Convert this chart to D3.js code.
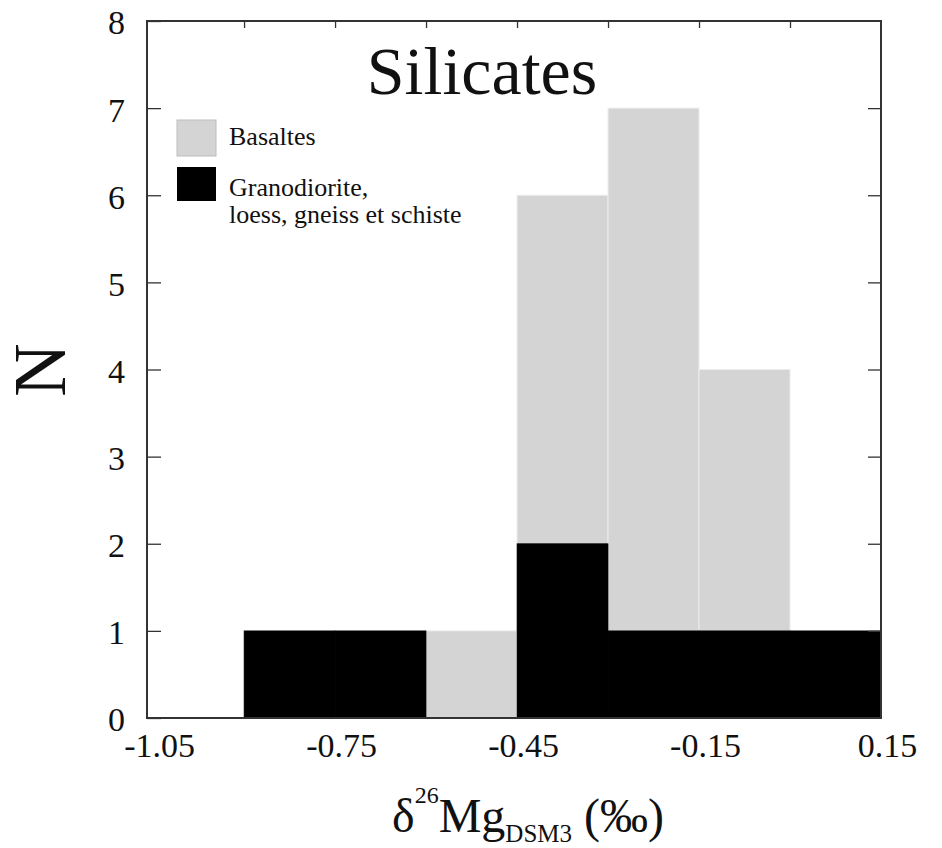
<!DOCTYPE html>
<html>
<head>
<meta charset="utf-8">
<script src="https://cdn.jsdelivr.net/npm/d3@7"></script>
<style>
  html, body { margin: 0; padding: 0; background: #fff; }
  svg { display: block; }
</style>
</head>
<body>
<svg id="chart" width="942" height="848"></svg>
<script>
// ---- data ----
const binStarts = [-0.9, -0.75, -0.6, -0.45, -0.3, -0.15, 0];
const binWidth = 0.15;
const basaltes = [0, 0, 1, 6, 7, 4, 0];
const autres = [1, 1, 0, 2, 1, 1, 1];
const xTickLabels = [-1.05, -0.75, -0.45, -0.15, 0.15];
const xMinorTicks = [-0.9, -0.75, -0.6, -0.45, -0.3, -0.15, 0];
const yTicks = [0, 1, 2, 3, 4, 5, 6, 7, 8];
const legendLabels = [["Basaltes"], ["Granodiorite,", "loess, gneiss et schiste"]];
const titleText = "Silicates";

// ---- layout ----
const L = 147, R = 881, T = 21, B = 718;
const serif = "'Liberation Serif', 'Times New Roman', serif";
const svg = d3.select("#chart");

const x = d3.scaleLinear().domain([-1.06, 0.15]).range([L, R]);
const y = d3.scaleLinear().domain([0, 8]).range([B, T]);

const colGrey = "#d4d4d4";
const colBlack = "#000000";

// grey bars (basaltes)
svg.append("g").selectAll("rect")
  .data(binStarts.map((s, i) => ({s, v: basaltes[i]})).filter(d => d.v > 0))
  .join("rect")
  .attr("x", d => x(d.s))
  .attr("width", d => x(d.s + binWidth) - x(d.s))
  .attr("y", d => y(d.v))
  .attr("height", d => y(0) - y(d.v))
  .attr("fill", colGrey)
  .attr("stroke", "#ececec")
  .attr("stroke-width", 1);

// black bars
svg.append("g").selectAll("rect")
  .data(binStarts.map((s, i) => ({s, v: autres[i]})).filter(d => d.v > 0))
  .join("rect")
  .attr("x", d => x(d.s))
  .attr("width", d => x(d.s + binWidth) - x(d.s))
  .attr("y", d => y(d.v))
  .attr("height", d => y(0) - y(d.v))
  .attr("fill", colBlack)
  .attr("stroke", colBlack)
  .attr("stroke-width", 0.6);

// frame
svg.append("rect")
  .attr("x", L).attr("y", T)
  .attr("width", R - L).attr("height", B - T)
  .attr("fill", "none")
  .attr("stroke", "#333")
  .attr("stroke-width", 2);

// left axis (ticks inward)
const yAxisL = svg.append("g")
  .attr("transform", `translate(${L},0)`)
  .call(d3.axisLeft(y).tickValues(yTicks).tickSizeInner(-14).tickSizeOuter(0).tickPadding(22).tickFormat(d3.format("d")));
yAxisL.select(".domain").remove();
yAxisL.selectAll(".tick line").attr("stroke", "#333").attr("stroke-width", 1.3);
yAxisL.selectAll(".tick text")
  .attr("font-family", serif).attr("font-size", 34).attr("fill", "#111")
  .attr("dy", "0.38em");

// right axis (ticks inward)
const yAxisR = svg.append("g")
  .attr("transform", `translate(${R},0)`)
  .call(d3.axisRight(y).tickValues(yTicks.slice(1, -1)).tickSizeInner(-13).tickSizeOuter(0).tickFormat(""));
yAxisR.select(".domain").remove();
yAxisR.selectAll(".tick line").attr("stroke", "#333").attr("stroke-width", 1.3);

// top axis minor ticks (inward)
const xAxisT = svg.append("g")
  .attr("transform", `translate(0,${T})`)
  .call(d3.axisTop(x).tickValues(xMinorTicks).tickSizeInner(-7).tickSizeOuter(0).tickFormat(""));
xAxisT.select(".domain").remove();
xAxisT.selectAll(".tick line").attr("stroke", "#333").attr("stroke-width", 1.3);

// bottom axis labels
const xAxisB = svg.append("g")
  .attr("transform", `translate(0,${B})`)
  .call(d3.axisBottom(x).tickValues(xTickLabels).tickSize(0).tickPadding(0).tickFormat(d => d.toFixed(2)));
xAxisB.select(".domain").remove();
xAxisB.selectAll(".tick line").remove();
xAxisB.selectAll(".tick text")
  .attr("font-family", serif).attr("font-size", 34).attr("fill", "#111")
  .attr("y", 39).attr("dy", 0).attr("dx", 6);

// title
svg.append("text")
  .attr("x", 482).attr("y", 94)
  .attr("text-anchor", "middle")
  .attr("font-family", serif).attr("font-size", 68).attr("fill", "#111")
  .text(titleText);

// legend
const legend = svg.append("g");
legend.append("rect").attr("x", 177).attr("y", 120).attr("width", 39).attr("height", 36)
  .attr("fill", colGrey).attr("stroke", "#bdbdbd").attr("stroke-width", 1);
legend.append("rect").attr("x", 177).attr("y", 167).attr("width", 39).attr("height", 34)
  .attr("fill", colBlack);
legend.append("text").attr("x", 229).attr("y", 145)
  .attr("font-family", serif).attr("font-size", 26).attr("fill", "#111")
  .text(legendLabels[0][0]);
const t2 = legend.append("text").attr("font-family", serif).attr("font-size", 26).attr("fill", "#111");
t2.append("tspan").attr("x", 229).attr("y", 196).text(legendLabels[1][0]);
t2.append("tspan").attr("x", 229).attr("y", 223).text(legendLabels[1][1]);

// y axis title
svg.append("text")
  .attr("transform", "translate(65,370) rotate(-90)")
  .attr("text-anchor", "middle")
  .attr("font-family", serif).attr("font-size", 74).attr("fill", "#111")
  .text("N");

// x axis title
const xt = svg.append("text")
  .attr("x", 528).attr("y", 832)
  .attr("text-anchor", "middle")
  .attr("font-family", serif).attr("font-size", 48).attr("fill", "#111");
xt.append("tspan").text("δ");
xt.append("tspan").attr("font-size", 24).attr("dy", -29).text("26");
xt.append("tspan").attr("dy", 29).text("Mg");
xt.append("tspan").attr("font-size", 25).attr("dy", 10).text("DSM3");
xt.append("tspan").attr("dy", -10).text(" (‰)");
</script>
</body>
</html>
